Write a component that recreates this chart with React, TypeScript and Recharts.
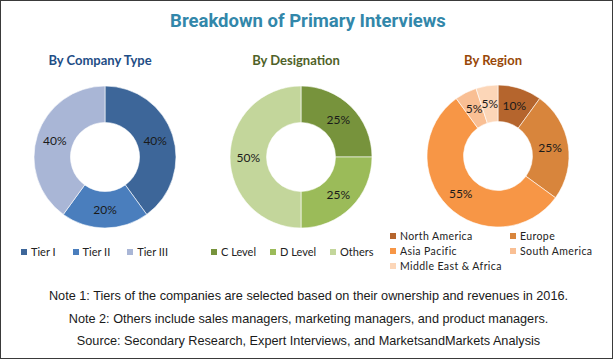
import React from 'react'
import { PieChart, Pie, Cell } from 'recharts'

const companyTypes = ['Tier I', 'Tier II', 'Tier III']
const companyShares = [40, 20, 40]
const designations = ['C Level', 'D Level', 'Others']
const designationShares = [25, 25, 50]
const regions = ['North America', 'Europe', 'Asia Pacific', 'South America', 'Middle East & Africa']
const regionShares = [10, 25, 55, 5, 5]

const notes = [
  'Note 1: Tiers of the companies are selected based on their ownership and revenues in 2016.',
  'Note 2: Others include sales managers, marketing managers, and product managers.',
  'Source: Secondary Research, Expert Interviews, and MarketsandMarkets Analysis',
]

const BLUES = ['#3d6699', '#4a7ebd', '#a9b6d6']
const GREENS = ['#77933c', '#9bbb59', '#c3d69b']
const ORANGES = ['#b5652d', '#d8853c', '#f79646', '#f9bf94', '#fcd6b8']

const CALIBRI = 'Lato, "Open Sans", sans-serif'
const RAD = Math.PI / 180

const pctLabel = (p: any) => {
  const r = (p.innerRadius + p.outerRadius) / 2
  const x = p.cx + r * Math.cos(-p.midAngle * RAD)
  const y = p.cy + r * Math.sin(-p.midAngle * RAD)
  return (
    <text x={x} y={y} textAnchor="middle" dominantBaseline="central"
      fontSize={12} fontFamily={CALIBRI} fill="#1a1a1a">
      {p.value}%
    </text>
  )
}

function LegendItem({ name, color, size }: { name: string; color: string; size: number }) {
  return (
    <div style={{ display: 'flex', alignItems: 'center', height: 13 }}>
      <span style={{ width: 6, height: 6, background: color, marginRight: 4, flex: 'none' }} />
      <span style={{ fontSize: size, fontFamily: CALIBRI, color: '#222', whiteSpace: 'nowrap', letterSpacing: size < 11 ? 0.4 : 0 }}>
        {name}
      </span>
    </div>
  )
}

type DonutProps = {
  title: string
  titleColor: string
  names: string[]
  values: number[]
  colors: string[]
  left: number
  width: number
  cx: number
  cy: number
}

function Donut({ title, titleColor, names, values, colors, left, width, cx, cy }: DonutProps) {
  const data = names.map((name, i) => ({ name, value: values[i] }))
  return (
    <div style={{ position: 'absolute', left, top: 0, width, height: 230 }}>
      <div style={{
        position: 'absolute', left: 0, top: 51, width: cx * 2, textAlign: 'center',
        fontFamily: CALIBRI, fontWeight: 700, fontSize: 13, color: titleColor,
      }}>
        {title}
      </div>
      <PieChart width={width} height={230}>
        <Pie data={data} dataKey="value" nameKey="name" cx={cx} cy={cy}
          innerRadius={34.5} outerRadius={71} startAngle={90} endAngle={-270}
          stroke="#ffffff" strokeWidth={0.6} label={pctLabel} labelLine={false}
          isAnimationActive={false}>
          {data.map((d, i) => <Cell key={d.name} fill={colors[i]} />)}
        </Pie>
      </PieChart>
    </div>
  )
}

export default function App() {
  return (
    <div style={{
      position: 'absolute', left: 0, top: 0, width: 613, height: 359, boxSizing: 'border-box',
      border: '1.5px solid #3a3a3a', background: '#fff', overflow: 'hidden',
    }}>
      <div style={{
        position: 'absolute', left: 0, top: 9, width: 614, textAlign: 'center',
        fontFamily: 'Roboto, "Liberation Sans", sans-serif', fontWeight: 700, fontSize: 18.5, color: '#3287aa',
      }}>
        Breakdown of Primary Interviews
      </div>
      <Donut title="By Company Type" titleColor="#1f4e86" names={companyTypes} values={companyShares}
        colors={BLUES} left={0} width={200} cx={99} cy={151} />
      <Donut title="By Designation" titleColor="#4f6228" names={designations} values={designationShares}
        colors={GREENS} left={200} width={195} cx={95} cy={151} />
      <Donut title="By Region" titleColor="#984807" names={regions} values={regionShares}
        colors={ORANGES} left={395} width={218} cx={97} cy={150} />

      <div style={{ position: 'absolute', left: 20, top: 244, display: 'flex', gap: 17 }}>
        {companyTypes.map((n, i) => <LegendItem key={n} name={n} color={BLUES[i]} size={11} />)}
      </div>
      <div style={{ position: 'absolute', left: 210, top: 244, display: 'flex', gap: 14 }}>
        {designations.map((n, i) => <LegendItem key={n} name={n} color={GREENS[i]} size={11} />)}
      </div>
      <div style={{
        position: 'absolute', left: 389, top: 228, display: 'grid',
        gridTemplateColumns: '120px 100px', rowGap: 2,
      }}>
        {regions.map((n, i) => <LegendItem key={n} name={n} color={ORANGES[i]} size={10.5} />)}
      </div>

      {notes.map((n, i) => (
        <div key={i} style={{
          position: 'absolute', left: 0, top: 288 + i * 22.5, width: 615, textAlign: 'center',
          fontFamily: '"Liberation Sans", Arial, sans-serif', fontSize: 12.7, color: '#1a1a1a',
        }}>
          {n}
        </div>
      ))}
    </div>
  )
}
